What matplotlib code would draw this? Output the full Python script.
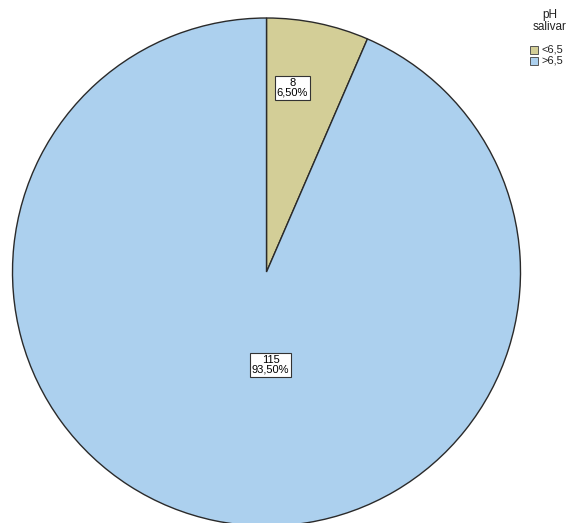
import matplotlib
matplotlib.use("Agg")
from matplotlib import pyplot as plt
from matplotlib.patches import Rectangle
import numpy as np

# pH salivar : effectifs par catégorie
categories = ["<6,5", ">6,5"]
counts = [8, 115]
colors = ["#d3ce97", "#acd0ee"]
legend_title = "pH\nsalivar"

plt.rcParams['font.family'] = ['Liberation Sans', 'DejaVu Sans']

W, H = 571, 523
fig = plt.figure(figsize=(W / 100, H / 100), dpi=100)
ax = fig.add_axes([0, 0, 1, 1])

cx, cy, r = 266.5, H - 272, 254
total = sum(counts)
wedges, _ = ax.pie(counts, colors=colors, startangle=90, counterclock=False,
                   center=(cx, cy), radius=r,
                   wedgeprops=dict(edgecolor='#2a2a2a', linewidth=1.0))

# pie() impose ses propres limites : on les remet en pixels
ax.set_xlim(0, W)
ax.set_ylim(0, H)
ax.set_aspect('equal')
ax.axis('off')

# étiquettes : effectif + pourcentage, dans une boîte blanche
label_pos = [(cx + 26, cy + 184), (cx + 4, cy - 93)]
for n, (lx, ly) in zip(counts, label_pos):
    pct = "{:.2f}%".format(100 * n / total).replace('.', ',')
    ax.text(lx, ly, "{}\n{}".format(n, pct), ha='center', va='center',
            fontsize=8, linespacing=0.95,
            bbox=dict(boxstyle='square,pad=0.2', facecolor='white',
                      edgecolor='#333333', linewidth=0.8))

# légende
ax.text(550, H - 21, legend_title, ha='center', va='center', fontsize=8.5,
        linespacing=0.95, color='#222222')
for i, (cat, col) in enumerate(zip(categories, colors)):
    y = H - 50 - i * 10.5
    ax.add_patch(Rectangle((530, y - 4), 8, 8, facecolor=col,
                           edgecolor='#555555', linewidth=0.7))
    ax.text(541, y, cat, ha='left', va='center', fontsize=8, color='#222222')

fig.savefig('out.png', dpi=100)
